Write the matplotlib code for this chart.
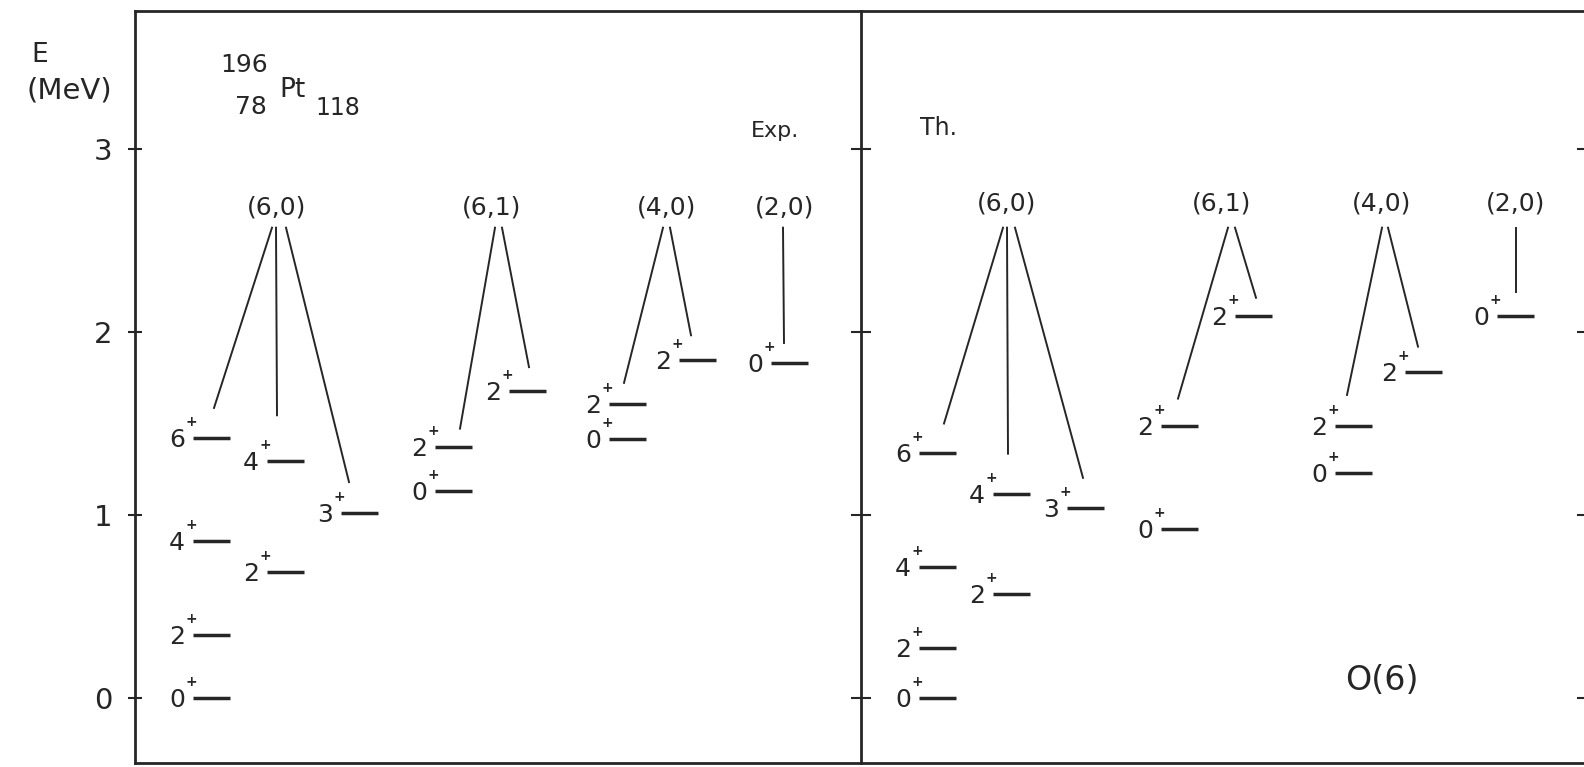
import matplotlib.pyplot as plt

# 196Pt positive-parity levels, experiment vs O(6) limit of the IBM
# each level sits in a column; same ordering in both panels
level_column = [0, 0, 0, 0, 1, 1, 2, 3, 3, 4, 5, 5, 6, 7]
level_spin = [0, 2, 4, 6, 2, 4, 3, 0, 2, 2, 0, 2, 2, 0]
exp_energy = [0.0, 0.344, 0.86, 1.42, 0.69, 1.295, 1.013, 1.13, 1.372, 1.678, 1.415, 1.607, 1.847, 1.83]
th_energy = [0.0, 0.273, 0.716, 1.34, 0.568, 1.115, 1.038, 0.923, 1.486, 2.087, 1.23, 1.486, 1.78, 2.087]

# (sigma, tau) multiplets and the levels they point to
group_names = ['(6,0)', '(6,1)', '(4,0)', '(2,0)']
group_levels = [[3, 5, 6], [8, 9], [11, 12], [13]]

yticks = [0, 1, 2, 3]

# ---- layout (panel x units are pixels from the panel's left edge) ----
W, H = 1584, 767
col_x = [58, 132, 206, 300, 374, 474, 544, 636]
bar_len = 37
ink = '#262626'

panels = {
    'exp': dict(left=135, energy=exp_energy, group_x=[142, 357, 532, 650],
                # connector tip: x offset from bar start, gap above level (MeV), start offset from group centre
                tips={3: (21, 0.165, -5), 5: (10, 0.25, -1), 6: (8, 0.167, 9),
                      8: (25, 0.10, 3), 9: (20, 0.13, 10),
                      11: (15, 0.115, -4), 12: (12, 0.135, 3), 13: (13, 0.11, -2)},
                group_y=2.68),
    'th': dict(left=861, energy=th_energy, group_x=[146, 361, 521, 655],
               tips={3: (25, 0.16, -4), 5: (15, 0.22, 0), 6: (16, 0.165, 8),
                     8: (17, 0.15, 6), 9: (21, 0.10, 13),
                     11: (12, 0.17, 0), 12: (13, 0.14, 6), 13: (19, 0.13, 0)},
               group_y=2.70),
}

plt.rcParams['font.family'] = ['DejaVu Sans']
fig = plt.figure(figsize=(W / 100, H / 100), dpi=100)

top, bottom = 11, 763
ylo = (698 - bottom) / 183
yhi = (698 - top) / 183


def draw_panel(p):
    ax = fig.add_axes([p['left'] / W, (H - bottom) / H, 726 / W, (bottom - top) / H])
    ax.patch.set_alpha(0)
    ax.set_xlim(0, 726)
    ax.set_ylim(ylo, yhi)
    ax.set_xticks([])
    ax.set_yticks(yticks)
    for s in ax.spines.values():
        s.set_linewidth(2)
        s.set_color(ink)
    en = p['energy']

    # level bars with J^pi labels
    for i, (c, j, e) in enumerate(zip(level_column, level_spin, en)):
        x0 = col_x[c]
        ax.plot([x0, x0 + bar_len], [e, e], color=ink, lw=2.5, solid_capstyle='butt')
        ax.annotate(str(j), (x0, e), xytext=(-8, -9), textcoords='offset pixels',
                    ha='right', va='baseline', fontsize=18, color=ink)
        ax.annotate('+', (x0, e), xytext=(-2, 16), textcoords='offset pixels',
                    ha='center', va='center', fontsize=10, fontweight='bold', color=ink)

    # multiplet labels and connectors
    for gx, name, members in zip(p['group_x'], group_names, group_levels):
        ax.text(gx, p['group_y'], name, ha='center', va='center', fontsize=18, color=ink)
        for i in members:
            dx, gap, sx = p['tips'][i]
            x1 = col_x[level_column[i]] + dx
            ax.plot([gx + sx, x1], [2.57, en[i] + gap], color=ink, lw=1.4)
    return ax


ax1 = draw_panel(panels['exp'])
ax2 = draw_panel(panels['th'])

ax1.tick_params(axis='y', left=True, right=False, direction='inout', length=10,
                width=1.5, color=ink, labelsize=21, labelcolor=ink, pad=11)
ax2.tick_params(axis='y', left=True, right=True, direction='inout', length=15,
                width=1.5, color=ink, labelleft=False)
ax2.spines['left'].set_visible(False)
ax2.spines['right'].set_visible(False)

ax1.text(640, 3.10, 'Exp.', ha='center', va='center', fontsize=16, color=ink)
ax2.text(77, 3.115, 'Th.', ha='center', va='center', fontsize=17, color=ink)
ax2.text(521, 0.098, 'O(6)', ha='center', va='center', fontsize=24, color=ink)

# nuclide symbol
ax1.text(109, 3.459, '196', ha='center', va='center', fontsize=18, color=ink)
ax1.text(157, 3.322, 'Pt', ha='center', va='center', fontsize=19, color=ink)
ax1.text(116, 3.23, '78', ha='center', va='center', fontsize=18, color=ink)
ax1.text(203, 3.224, '118', ha='center', va='center', fontsize=17, color=ink)

fig.text(40 / W, 1 - 55 / H, 'E', ha='center', va='center', fontsize=19, color=ink)
fig.text(69 / W, 1 - 90 / H, '(MeV)', ha='center', va='center', fontsize=21, color=ink)

fig.savefig('out.png', dpi=100, facecolor='white')
